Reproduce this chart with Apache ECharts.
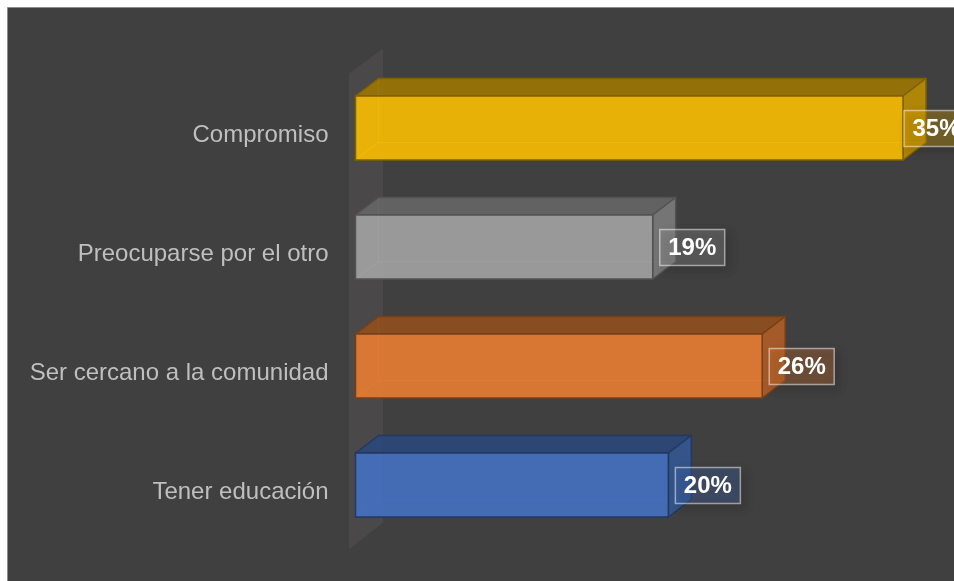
<!DOCTYPE html>
<html>
<head>
<meta charset="utf-8">
<style>
  html, body { margin: 0; padding: 0; background: #ffffff; }
  #chart { width: 954px; height: 581px; }
</style>
<script src="https://cdn.jsdelivr.net/npm/echarts@6/dist/echarts.min.js"></script>
</head>
<body>
<div id="chart"></div>
<script>
// Categories, top to bottom
const categories = ['Compromiso', 'Preocuparse por el otro', 'Ser cercano a la comunidad', 'Tener educación'];
// Share of responses, percent
const values = [35, 19, 26, 20];
// Base colour of each bar
const barColors = ['#FFC000', '#A5A5A5', '#ED7D31', '#4472C4'];

function shade(hex, f, a) {
  const n = parseInt(hex.slice(1), 16);
  const r = Math.round(((n >> 16) & 255) * f);
  const g = Math.round(((n >> 8) & 255) * f);
  const b = Math.round((n & 255) * f);
  return 'rgba(' + r + ',' + g + ',' + b + ',' + a + ')';
}

const chart = echarts.init(document.getElementById('chart'));
const W = 954;
const DX = 23, DY = -17.5;   // extrusion depth of the bars

function renderBar(params, api) {
  const v = api.value(0);
  const idx = api.value(1);
  const base = barColors[idx];
  const p0 = api.coord([0, idx]);
  const p1 = api.coord([v, idx]);
  const band = api.size([0, 1])[1];
  const h = band * 0.538;
  const yc = p0[1] - band * 0.042;
  const x0 = p0[0], x1 = p1[0];
  const yt = yc - h / 2, yb = yc + h / 2;
  const edge = shade(base, 0.5, 1);
  const lw = 1.5;
  const alpha = 0.88;

  const children = [];
  // hidden back edges, seen through the translucent faces
  children.push({
    type: 'polyline',
    shape: { points: [[x0, yb], [x0 + DX, yb + DY], [x0 + DX, yt + DY]] },
    style: { stroke: shade(base, 1, 0.45), lineWidth: 1.2, fill: null }
  });
  children.push({
    type: 'line',
    shape: { x1: x0 + DX, y1: yb + DY, x2: x1 + DX, y2: yb + DY },
    style: { stroke: shade(base, 1, 0.45), lineWidth: 1.2 }
  });
  // top face
  children.push({
    type: 'polygon',
    shape: { points: [[x0, yt], [x1, yt], [x1 + DX, yt + DY], [x0 + DX, yt + DY]] },
    style: { fill: shade(base, 0.62, alpha), stroke: edge, lineWidth: lw, lineJoin: 'round' }
  });
  // side face
  children.push({
    type: 'polygon',
    shape: { points: [[x1, yt], [x1 + DX, yt + DY], [x1 + DX, yb + DY], [x1, yb]] },
    style: { fill: shade(base, 0.75, alpha), stroke: edge, lineWidth: lw, lineJoin: 'round' }
  });
  // front face
  children.push({
    type: 'rect',
    shape: { x: x0, y: yt, width: x1 - x0, height: h },
    style: { fill: shade(base, 1, alpha), stroke: edge, lineWidth: lw }
  });

  // value label box
  const bw = 65, bh = 36;
  const bx = Math.min(x1 + 7, Math.max(x1 + 1, W - bw));
  const by = yc - bh / 2 + 0.5;
  children.push({
    type: 'rect',
    shape: { x: bx, y: by, width: bw, height: bh },
    style: {
      fill: shade(base, 1, 0.28),
      stroke: 'rgba(255,255,255,0.5)',
      lineWidth: 1.5,
      shadowBlur: 10,
      shadowOffsetX: 4,
      shadowOffsetY: 4,
      shadowColor: 'rgba(0,0,0,0.45)'
    }
  });
  children.push({
    type: 'text',
    style: {
      x: bx + bw / 2,
      y: by + bh / 2 + 1,
      text: v + '%',
      fill: '#ffffff',
      font: 'bold 24px "Liberation Sans", Arial, sans-serif',
      align: 'center',
      verticalAlign: 'middle'
    }
  });
  return { type: 'group', children: children };
}

function renderWall(params) {
  const cs = params.coordSys;
  const lx = cs.x - 6.5;
  const rx = lx + 34;
  return {
    type: 'polygon',
    shape: {
      points: [[lx, cs.y], [rx, cs.y - 25], [rx, cs.y + cs.height - 27], [lx, cs.y + cs.height]]
    },
    style: { fill: '#4a4849' }
  };
}

chart.setOption({
  backgroundColor: '#ffffff',
  animation: false,
  graphic: [{
    type: 'rect',
    z: -10,
    silent: true,
    shape: { x: 7.5, y: 7.5, width: 960, height: 600 },
    style: { fill: '#404040', stroke: '#8c8c8c', lineWidth: 1 }
  }],
  grid: { left: 355.5, right: 51, top: 73.5, bottom: 31.5, containLabel: false },
  xAxis: {
    type: 'value', min: 0, max: 35, show: false
  },
  yAxis: {
    type: 'category',
    data: categories,
    inverse: true,
    axisLine: { show: false },
    axisTick: { show: false },
    splitLine: { show: false },
    axisLabel: {
      margin: 27,
      formatter: '{c|{value}}',
      rich: {
        c: {
          color: '#bfbfbf',
          fontSize: 24,
          fontFamily: '"Liberation Sans", Arial, sans-serif',
          padding: [4, 0, 0, 0]
        }
      }
    }
  },
  series: [
    {
      type: 'custom',
      name: 'wall',
      z: 1,
      silent: true,
      renderItem: renderWall,
      data: [[0, 0]],
      encode: { x: 0, y: 1 }
    },
    {
      type: 'custom',
      name: 'bars',
      z: 2,
      renderItem: renderBar,
      data: values.map((v, i) => [v, i]),
      encode: { x: 0, y: 1 }
    }
  ]
});
</script>
</body>
</html>
